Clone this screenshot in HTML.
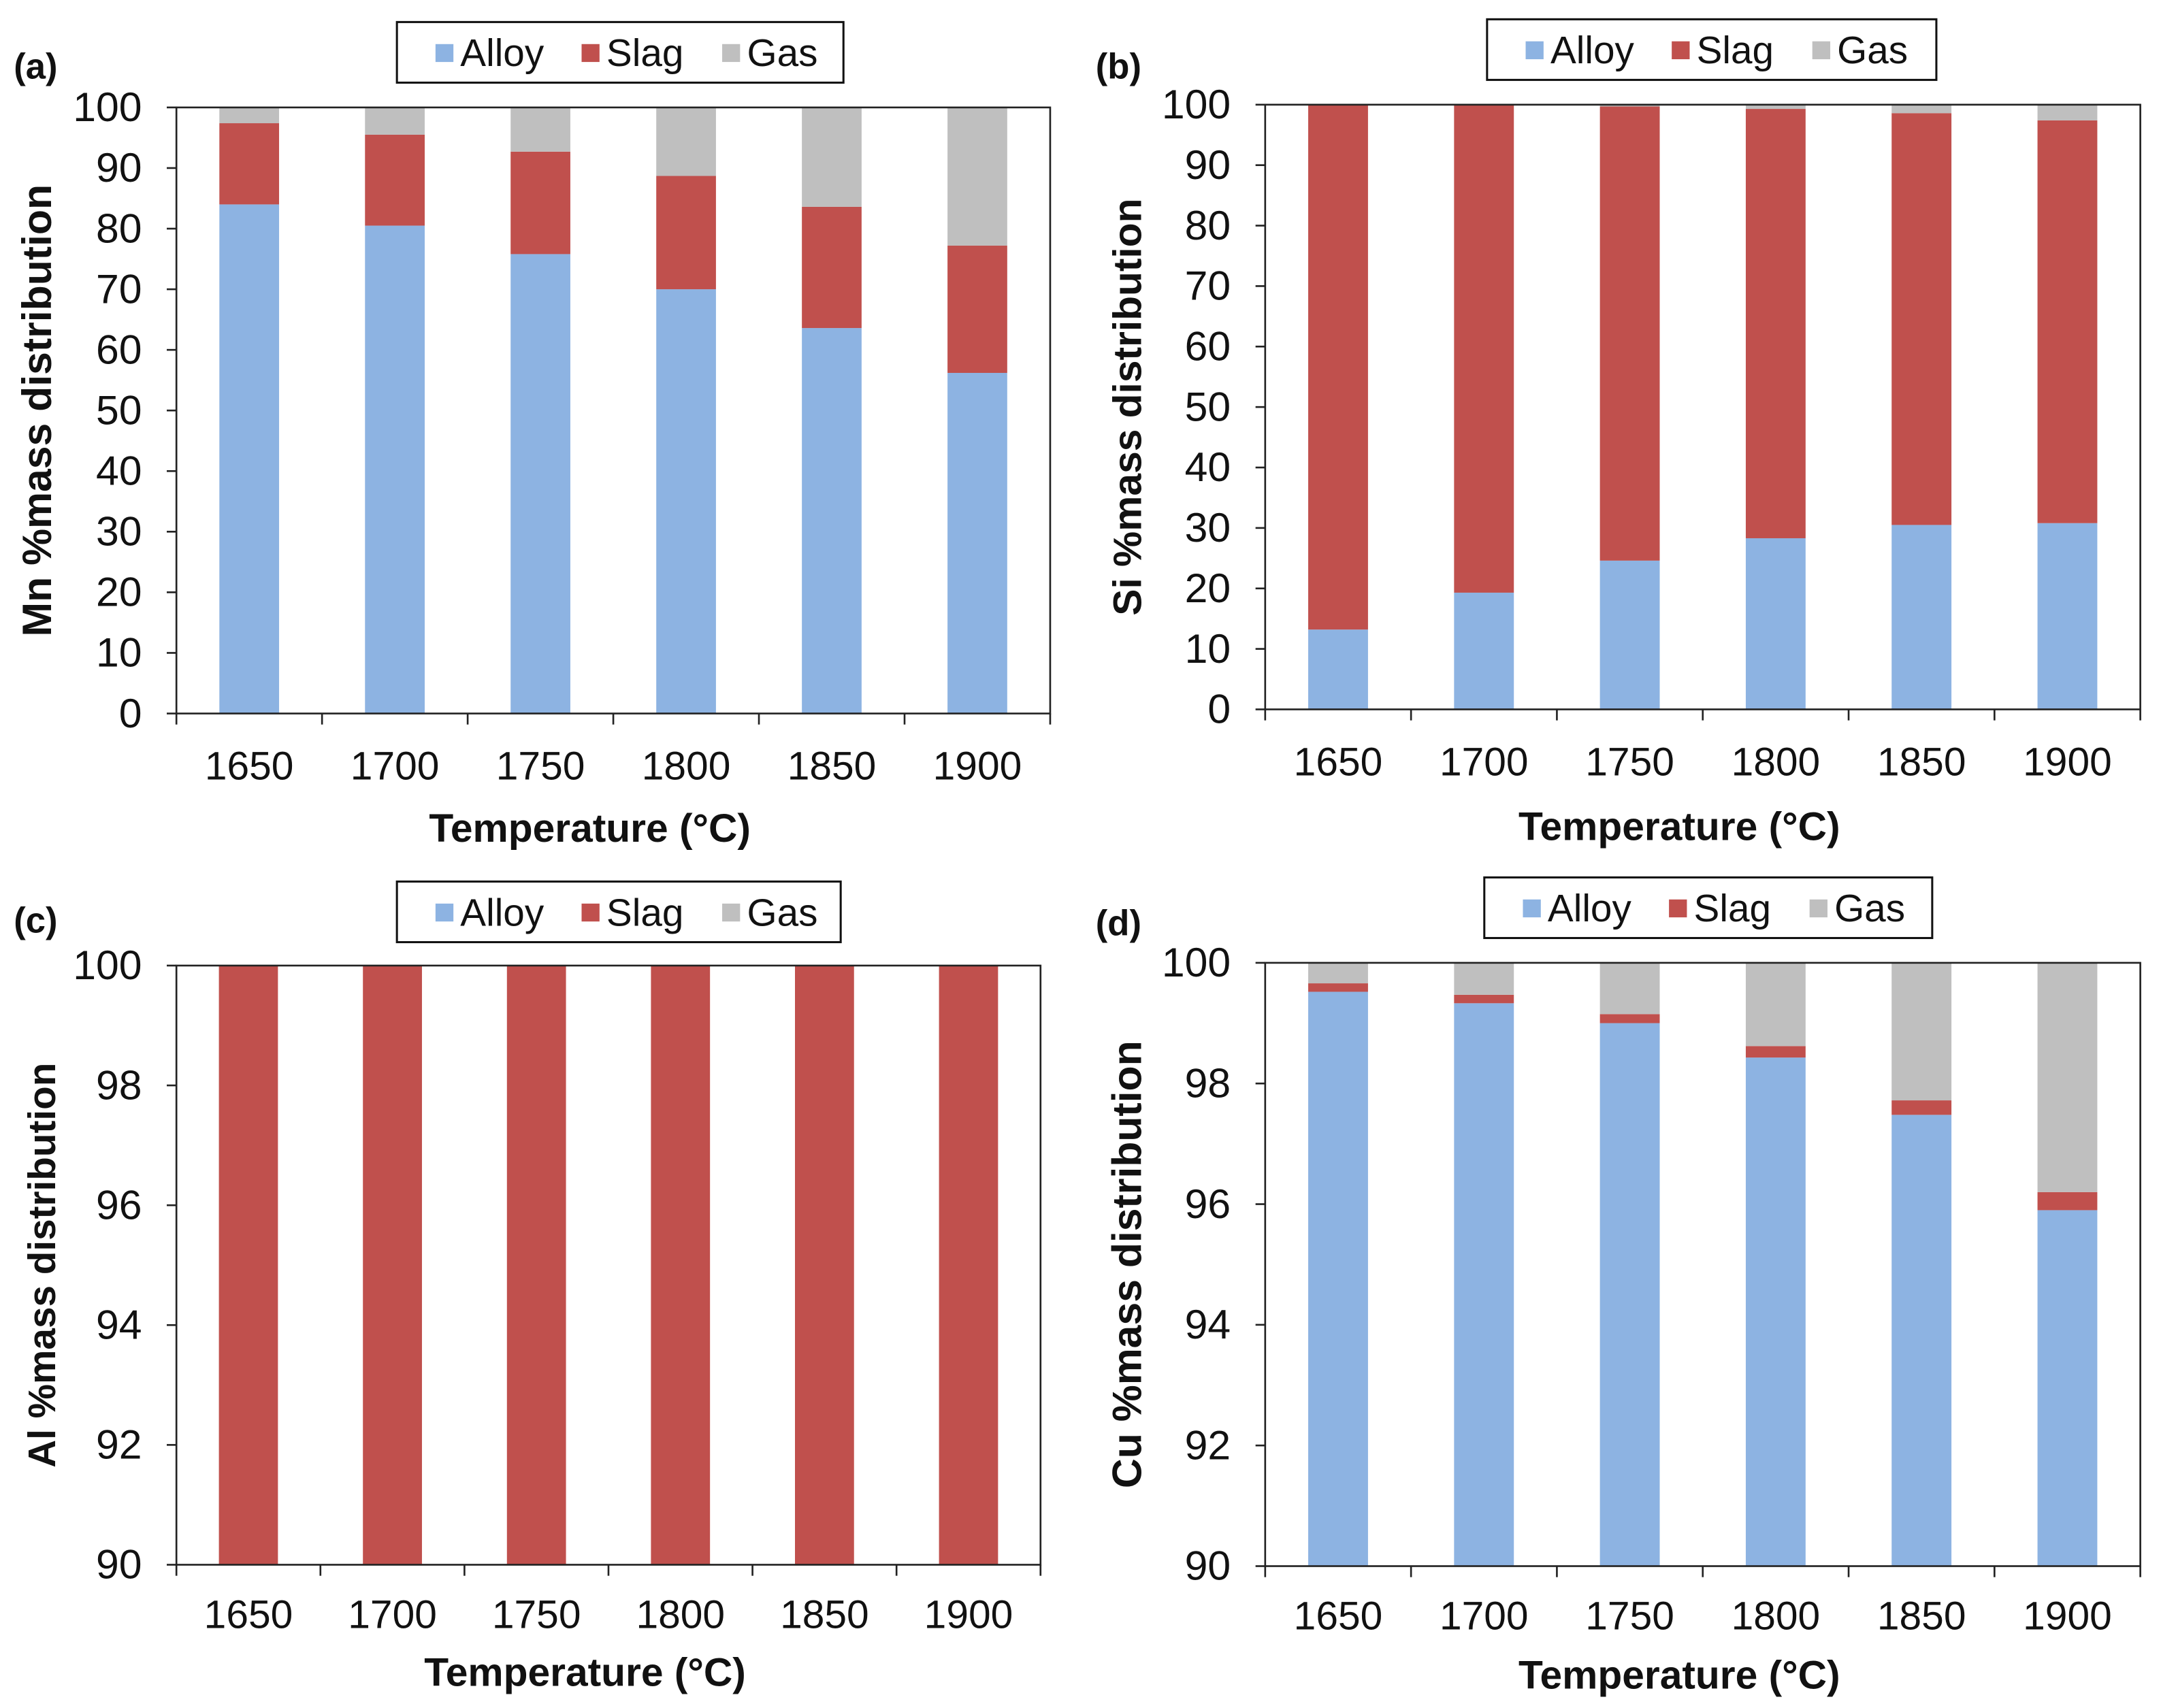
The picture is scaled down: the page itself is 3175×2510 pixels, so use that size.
<!DOCTYPE html>
<html><head><meta charset="utf-8"><style>
html,body{margin:0;padding:0;background:#fff}
svg{display:block}
text{font-family:"Liberation Sans",Arial,sans-serif;fill:#111}
</style></head><body>
<svg id="fig" width="3175" height="2510" viewBox="0 0 1568 1240" preserveAspectRatio="none" xmlns="http://www.w3.org/2000/svg"></svg>
<script>
const categories = ["1650","1700","1750","1800","1850","1900"];
const mnAlloy = [84.0,80.5,75.8,70.0,63.6,56.2];
const mnSlag  = [13.4,15.0,16.9,18.7,20.0,21.0];
const mnGas   = [2.6,4.5,7.3,11.3,16.4,22.8];
const siAlloy = [13.2,19.3,24.6,28.3,30.5,30.8];
const siSlag  = [86.8,80.7,75.1,71.0,68.1,66.6];
const siGas   = [0.0,0.0,0.3,0.7,1.4,2.6];
const alAlloy = [0.0,0.0,0.0,0.0,0.0,0.0];
const alSlag  = [100,100,100,100,100,100];
const alGas   = [0.0,0.0,0.0,0.0,0.0,0.0];
const cuAlloy = [99.52,99.33,99.0,98.43,97.48,95.9];
const cuSlag  = [0.14,0.14,0.15,0.19,0.24,0.30];
const cuGas   = [0.34,0.53,0.85,1.38,2.28,3.80];
const ticks100 = [0,10,20,30,40,50,60,70,80,90,100];
const ticks90 = [90,92,94,96,98,100];
const seriesNames = ["Alloy","Slag","Gas"];
const colors = ["#8db3e2","#c0504d","#bfbfbf"];

const NS="http://www.w3.org/2000/svg";
const svg=document.getElementById('fig');
function mk(tag,attrs,parent){const e=document.createElementNS(NS,tag);for(const k in attrs)e.setAttribute(k,attrs[k]);(parent||svg).appendChild(e);return e;}

const panels=[
 {id:"a",label:"(a)",el:"Mn",series:[mnAlloy,mnSlag,mnGas],ticks:ticks100,min:0,max:100,x0:128,x1:762,y0:78,y1:518,lx:288,ly:16,lw:324,ytx:27,yl:103,labx:10,laby:57,xlab:566,xt:611,yf:30},
 {id:"b",label:"(b)",el:"Si",series:[siAlloy,siSlag,siGas],ticks:ticks100,min:0,max:100,x0:918,x1:1553,y0:76,y1:515,lx:1079,ly:14,lw:326,ytx:818,yl:893,labx:795,laby:57,xlab:563,xt:610,yf:29},
 {id:"c",label:"(c)",el:"Al",series:[alAlloy,alSlag,alGas],ticks:ticks90,min:90,max:100,x0:128,x1:755,y0:701,y1:1136,lx:288,ly:640,lw:322,ytx:30,yl:103,labx:10,laby:677,xlab:1182,xt:1224,yf:28},
 {id:"d",label:"(d)",el:"Cu",series:[cuAlloy,cuSlag,cuGas],ticks:ticks90,min:90,max:100,x0:918,x1:1553,y0:699,y1:1137,lx:1077,ly:637,lw:325,ytx:818,yl:893,labx:795,laby:679,xlab:1183,xt:1226,yf:30}
];

panels.forEach(p=>{
 const g=mk('g',{});
 
 
 const n=categories.length, cw=(p.x1-p.x0)/n, bw=cw*0.41;
 const ys=v=>p.y1-(Math.max(v,p.min)-p.min)/(p.max-p.min)*(p.y1-p.y0);
 const xs=i=>p.x0+cw*(i+0.5);
 categories.forEach((c,i)=>{
  let base=0;
  p.series.forEach((arr,s)=>{
   const top=base+arr[i];
   const yb=ys(base), yt=ys(Math.min(top,100));
   if(yb-yt>0.01){
    const r=mk('rect',{x:xs(i)-bw/2,y:yt,width:bw,height:yb-yt,fill:colors[s]},g);
    
    
   }
   base=top;
  });
 });
 const fr=mk('rect',{x:p.x0,y:p.y0,width:p.x1-p.x0,height:p.y1-p.y0,fill:'none',stroke:'#222','stroke-width':1.3},g);
 
 
 p.ticks.forEach(t=>{
  const y=ys(t);
  mk('line',{x1:p.x0-7,x2:p.x0,y1:y,y2:y,stroke:'#222','stroke-width':1.3},g);
  const tx=mk('text',{x:p.yl,y:y+10,'text-anchor':'end','font-size':30},g);
  tx.textContent=t;
  
  
 });
 for(let i=0;i<=n;i++){const x=p.x0+cw*i;mk('line',{x1:x,x2:x,y1:p.y1,y2:p.y1+8,stroke:'#222','stroke-width':1.3},g);}
 categories.forEach((c,i)=>{
  const tx=mk('text',{x:xs(i),y:p.xlab,'text-anchor':'middle','font-size':29},g);
  tx.textContent=c;
  
  
 });
 const xt=mk('text',{x:(p.x0+p.x1)/2-17,y:p.xt,'text-anchor':'middle','font-size':29,'font-weight':'bold'},g);
 xt.textContent='Temperature (°C)';
 
 
 const cy=(p.y0+p.y1)/2;
 const yt=mk('text',{x:0,y:0,'text-anchor':'middle','font-size':p.yf,'font-weight':'bold',transform:`translate(${p.ytx+10},${cy}) rotate(-90)`},g);
 yt.textContent=p.el+' %mass distribution';
 
 
 const lb=mk('text',{x:p.labx,y:p.laby,'font-size':26,'font-weight':'bold'},g);
 lb.textContent=p.label;
 
 
 const lg=mk('g',{},g);
 
 
 mk('rect',{x:p.lx,y:p.ly,width:p.lw,height:44,fill:'#fff',stroke:'#111','stroke-width':1.5},lg);
 const offs=[28,134,236];
 seriesNames.forEach((s,k)=>{
  const e=mk('g',{},lg);
  
  
  mk('rect',{x:p.lx+offs[k],y:p.ly+16,width:13,height:13,fill:colors[k]},e);
  const t=mk('text',{x:p.lx+offs[k]+18,y:p.ly+32,'font-size':28},e);
  t.textContent=s;
 });
});
</script>
</body></html>
